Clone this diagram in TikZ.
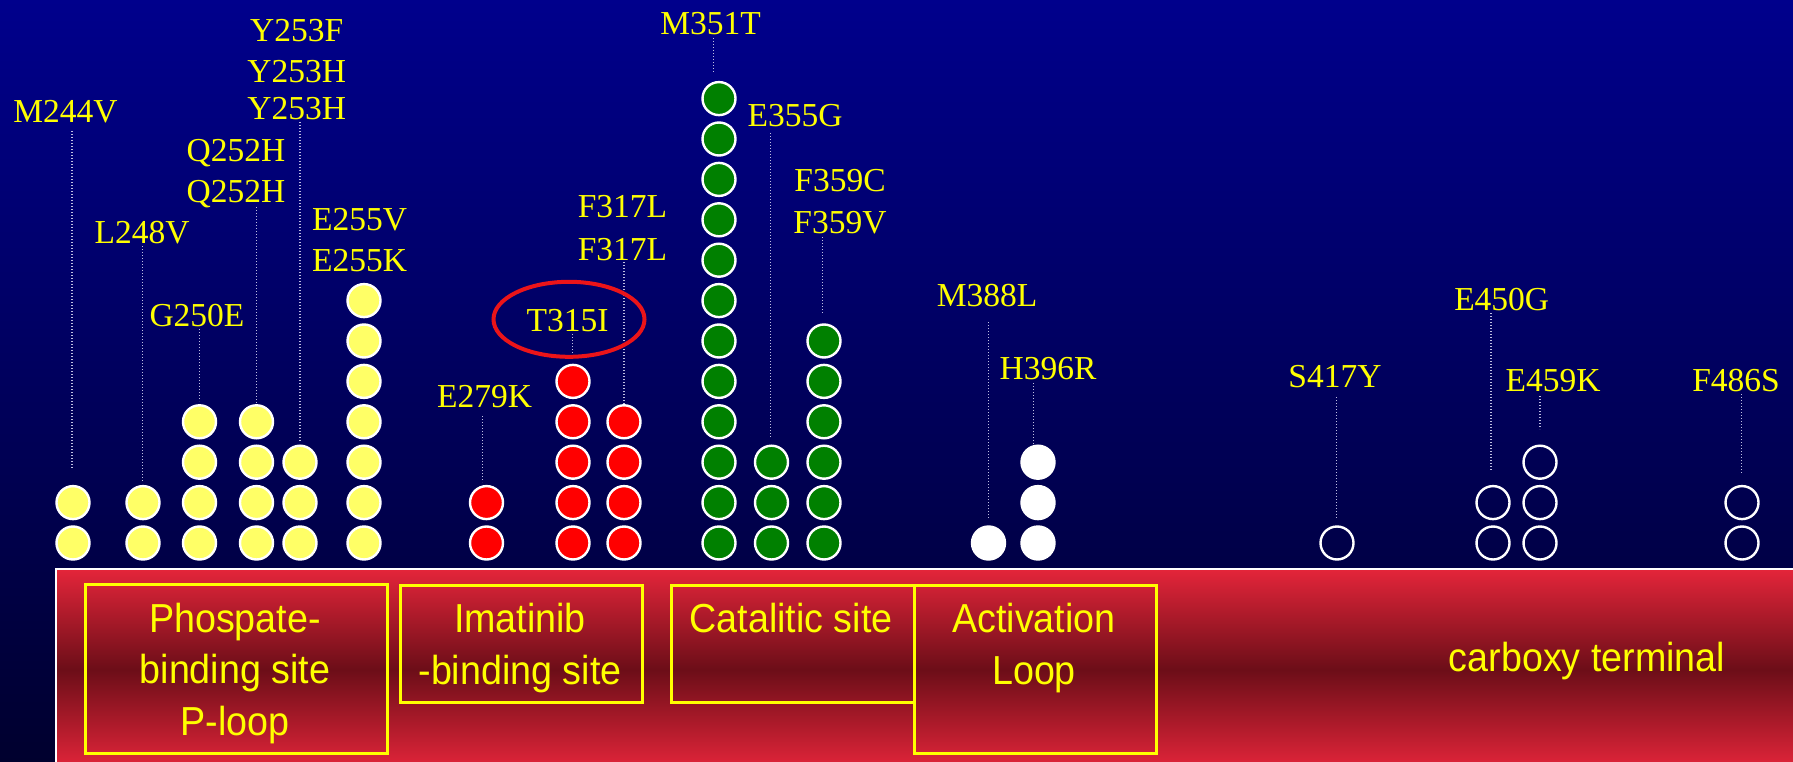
\documentclass[tikz,border=0pt]{standalone}
\usepackage{fontspec}
\setmainfont{Liberation Serif}
\newfontfamily\sansf[FakeStretch=0.93]{Liberation Sans}
\usetikzlibrary{shapes.geometric}
\definecolor{labyel}{RGB}{255,255,0}
\definecolor{cyel}{RGB}{255,255,102}
\definecolor{cred}{RGB}{255,0,0}
\definecolor{cgreen}{RGB}{0,128,0}
\definecolor{bgtop}{RGB}{0,0,140}
\definecolor{bgbot}{RGB}{0,0,46}
\definecolor{bartop}{RGB}{228,37,58}
\definecolor{barmid}{RGB}{108,14,24}
\definecolor{dotc}{RGB}{190,190,225}
\definecolor{ovalred}{RGB}{235,20,25}
\begin{document}
\begin{tikzpicture}[x=1pt,y=-1pt,
  lab/.style={text=labyel,font=\fontsize{33.5}{40}\selectfont,anchor=base,inner sep=0pt},
  site/.style={text=labyel,font=\sansf\fontsize{40.5}{46}\selectfont,anchor=base,inner sep=0pt},
  sitebox/.style={draw=labyel,line width=2.6pt,anchor=north west,inner sep=0pt},
  mut/.style={circle,minimum size=33pt,inner sep=0pt,draw=white,line width=2.4pt},
  ymut/.style={mut,fill=cyel},
  rmut/.style={mut,fill=cred},
  gmut/.style={mut,fill=cgreen},
  wmut/.style={mut,fill=white},
  omut/.style={mut},
  dotline/.style={draw=dotc,line width=1.1pt,dash pattern=on 1.1pt off 1.9pt}
]
\useasboundingbox (0,0) rectangle (1793,762);
\shade[top color=bgtop,bottom color=bgbot] (0,0) rectangle (1793,762);

% dotted connector ends
\foreach \nm/\x/\ya/\yb in {
  la/72/131/468, lb/142.7/246/482, lc/199.3/329/401, ld/256.7/207/403,
  le/300/122/442, lf/482.7/416/482, lg/572.7/334/353, lh/624/262/407,
  li/713.3/38/72, lj/770.7/133/438, lk/822.3/237/313, ll/988.7/322/518,
  lm/1033.5/383/445, ln/1336.2/397/518, lo/1491/313/470, lp/1540/396/429,
  lq/1741.7/394/473}{
  \coordinate (\nm-a) at (\x,\ya);
  \coordinate (\nm-b) at (\x,\yb);
  \draw[dotline] (\nm-a) -- (\nm-b);
}

% mutation circles
\foreach \nm/\x/\n/\st in {
  cm/73/2/ymut, cl/143/2/ymut, cg/199.5/4/ymut, cq/256.5/4/ymut,
  cy/300/3/ymut, ce/364/7/ymut,
  cek/486.5/2/rmut, ct/573/5/rmut, cf/624/4/rmut,
  cmt/719/12/gmut, ceg/771.5/3/gmut, cfc/824/6/gmut,
  cml/988.5/1/wmut, ch/1038/3/wmut,
  cs/1337/1/omut, ceo/1493/2/omut, cek/1540/3/omut, cfs/1742/2/omut}{
  \foreach \i in {1,...,\n}{
    \node[\st] (\nm\i) at (\x,{543-(\i-1)*40.4}) {};
  }
}

% labels
\node[lab] (m244v) at (65.5,122.7) {M244V};
\node[lab] (l248v) at (142,243) {L248V};
\node[lab] (g250e) at (197,326.7) {G250E};
\node[lab] (q252a) at (236,162) {Q252H};
\node[lab] (q252b) at (236,203) {Q252H};
\node[lab] (y253a) at (296.7,41.7) {Y253F};
\node[lab] (y253b) at (296.7,82.7) {Y253H};
\node[lab] (y253c) at (296.7,120) {Y253H};
\node[lab] (e255a) at (359.5,230.7) {E255V};
\node[lab] (e255b) at (359.5,271.7) {E255K};
\node[lab] (e279k) at (484.5,407.7) {E279K};
\node[lab] (t315i) at (567.5,331) {T315I};
\node[lab] (f317a) at (622.5,217.3) {F317L};
\node[lab] (f317b) at (622.5,260) {F317L};
\node[lab] (m351t) at (710.5,35) {M351T};
\node[lab] (e355g) at (795,126.7) {E355G};
\node[lab] (f359a) at (840,191.7) {F359C};
\node[lab] (f359b) at (840,233.3) {F359V};
\node[lab] (m388l) at (987,306) {M388L};
\node[lab] (h396r) at (1048,379.3) {H396R};
\node[lab] (s417y) at (1335,387.3) {S417Y};
\node[lab] (e450g) at (1501.7,310) {E450G};
\node[lab] (e459k) at (1553,391.7) {E459K};
\node[lab] (f486s) at (1736,391.7) {F486S};

\node[ellipse,draw=ovalred,line width=4pt,minimum width=151pt,minimum height=75pt,inner sep=0pt] (oval) at (569,319.3) {};

% kinase domain bar
\shade[top color=bartop,bottom color=bartop,middle color=barmid] (56,569) rectangle (1800,770);
\draw[white,line width=1.6pt] (56,770) -- (56,569) -- (1800,569);

\node[sitebox,minimum width=302pt,minimum height=169pt] (pbox) at (84,583) {};
\node[sitebox,minimum width=242pt,minimum height=117pt] (ibox) at (399,584) {};
\node[sitebox,minimum width=243pt,minimum height=117pt] (cbox) at (670,584) {};
\node[sitebox,minimum width=242pt,minimum height=168pt] (abox) at (913,584) {};

\node[site] (p1) at (235,632) {Phospate-};
\node[site] (p2) at (235,683.5) {binding site};
\node[site] (p3) at (235,735) {P-loop};
\node[site] (i1) at (520,632.7) {Imatinib};
\node[site] (i2) at (520,684) {-binding site};
\node[site] (c1) at (791,632.7) {Catalitic site};
\node[site] (a1) at (1034,632.7) {Activation};
\node[site] (a2) at (1034,684) {Loop};
\node[site] (ct) at (1587,671.7) {carboxy terminal};
\end{tikzpicture}
\end{document}
